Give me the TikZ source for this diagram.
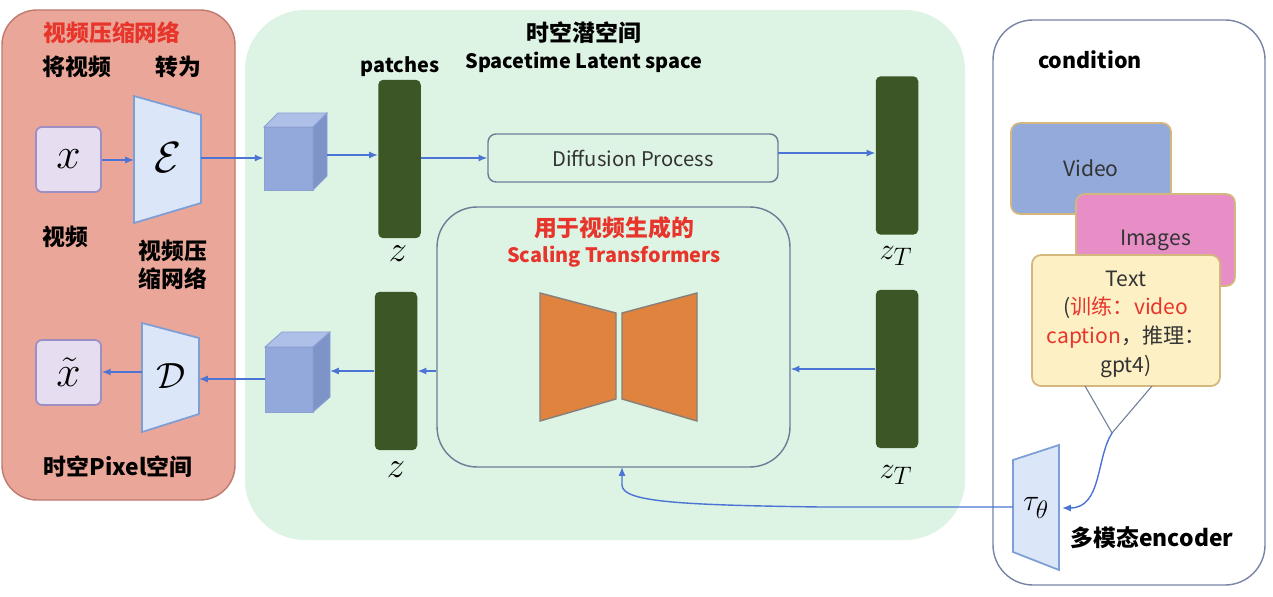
\documentclass[tikz,border=0pt]{standalone}
\usepackage[no-math]{fontspec}
\setmainfont{Noto Sans CJK SC}
\usetikzlibrary{arrows.meta}

\definecolor{redfill}{HTML}{EAA698}
\definecolor{redline}{HTML}{BE7A6E}
\definecolor{greenfill}{HTML}{DDF3E4}
\definecolor{condline}{HTML}{7784A5}
\definecolor{redtxt}{HTML}{E8352C}
\definecolor{arrblue}{HTML}{4C74D4}
\definecolor{bargreen}{HTML}{3C5725}
\definecolor{xfill}{HTML}{E6DEF0}
\definecolor{xline}{HTML}{9D8FC4}
\definecolor{trapfill}{HTML}{DBE7F8}
\definecolor{trapline}{HTML}{7E9ED6}
\definecolor{boxline}{HTML}{6C7D96}
\definecolor{orng}{HTML}{E0833E}
\definecolor{orngline}{HTML}{85807A}
\definecolor{cubefront}{HTML}{93A8DB}
\definecolor{cubetop}{HTML}{AEBFE8}
\definecolor{cubeside}{HTML}{7E93C8}
\definecolor{cubeline}{HTML}{8CA0D2}
\definecolor{vidfill}{HTML}{93AADB}
\definecolor{imgfill}{HTML}{E68EC5}
\definecolor{txtfill}{HTML}{FDF0C5}
\definecolor{cardline}{HTML}{D3B77C}
\definecolor{darktxt}{HTML}{333333}

\begin{document}
\begin{tikzpicture}[x=0.02cm,y=-0.02cm]
  \tikzset{lbl/.style={font=\fontsize{13}{16}\selectfont\bfseries},
    latlbl/.style={font=\fontsize{11.3}{14}\selectfont\bfseries},
    redlbl/.style={text=redtxt},
    txt/.style={font=\fontsize{12}{16.3}\selectfont, text=darktxt},
    bigmath/.style={font=\fontsize{22}{26}\selectfont},
    smallmath/.style={font=\fontsize{19}{22}\selectfont},
    arr/.style={draw=arrblue, line width=0.8pt, -{Latex[length=5pt,width=4pt]}},
    xbox/.style={draw=xline, fill=xfill, line width=1pt,
      rounded corners=0.12cm, minimum width=1.3cm, minimum height=1.3cm,
      font=\fontsize{25}{28}\selectfont},
    bar/.style={fill=bargreen, rounded corners=0.1cm, minimum width=0.85cm,
      minimum height=3.17cm},
    trap/.style={draw=trapline, fill=trapfill, line width=1pt},
    rbox/.style={draw=boxline, line width=0.8pt},
    card/.style={draw=cardline, line width=1pt, rounded corners=0.18cm},
    face/.style={draw=cubeline, line width=0.5pt}}
  \useasboundingbox (0,0) rectangle (1273,597);
  % three panels
  \draw[fill=redfill, draw=redline, rounded corners=0.7cm, line width=0.8pt]
    (2,10) rectangle (235,500);
  \fill[greenfill, rounded corners=1.2cm] (245,10) rectangle (965,540);
  \draw[draw=condline, rounded corners=0.8cm, line width=0.8pt]
    (993,20) rectangle (1265,585);

  % pixel space
  \node[lbl, redlbl] (ptitle) at (112,33) {视频压缩网络};
  \node[lbl] (pl1) at (77,67) {将视频};
  \node[lbl] (pl2) at (178,67) {转为};
  \node[lbl] (pl3) at (65,237) {视频};
  \node[lbl, align=center] (pl4) at (173,265) {视频压\\缩网络};
  \node[lbl] (pl5) at (118,467) {时空Pixel空间};
  \node[xbox] (x) at (68.5,159.5) {$x$};
  \node[xbox] (xt) at (68.5,372.5) {$\tilde{x}$};
  \draw[trap] (134,96) -- (201,115) -- (201,203) -- (134,223) -- cycle;
  \node[font=\fontsize{27}{30}\selectfont] (E) at (168,158) {$\mathcal{E}$};
  \coordinate (Ein) at (134,160);
  \coordinate (Eout) at (201,158);
  \draw[trap] (142,323) -- (199,338) -- (199,414) -- (142,432) -- cycle;
  \node[bigmath] (D) at (171,376) {$\mathcal{D}$};
  \coordinate (Din) at (199,379);
  \coordinate (Dout) at (142,372);

  % cubes
  \node[face, fill=cubefront, minimum width=0.98cm, minimum height=1.26cm]
    (cube1) at (288.5,158.5) {};
  \draw[face, fill=cubetop] (264,127) -- (278,113) -- (327,113) -- (313,127) -- cycle;
  \draw[face, fill=cubeside] (313,127) -- (327,113) -- (327,176) -- (313,190) -- cycle;
  \coordinate (c1side) at (327,155);
  \node[face, fill=cubefront, minimum width=0.96cm, minimum height=1.3cm]
    (cube2) at (289,379.5) {};
  \draw[face, fill=cubetop] (265,347) -- (282,332) -- (330,332) -- (313,347) -- cycle;
  \draw[face, fill=cubeside] (313,347) -- (330,332) -- (330,397) -- (313,412) -- cycle;
  \coordinate (c2side) at (330,371);

  % latent space
  \node[lbl] (ltitle) at (584,33) {时空潜空间};
  \node[latlbl] (ltitle2) at (584,62) {Spacetime Latent space};
  \node[latlbl] (patch) at (400,67) {patches};
  \node[bar] (z1) at (399.5,159) {};
  \node[bar] (z2) at (396,371) {};
  \node[bar] (zT1) at (897,155.5) {};
  \node[bar] (zT2) at (897,369) {};
  \node[bigmath] at (398,254) {$z$};
  \node[bigmath] at (396,470) {$z$};
  \node[smallmath] at (896,256) {$z_T$};
  \node[smallmath] at (896,475) {$z_T$};
  \node[rbox, rounded corners=0.16cm, minimum width=5.8cm, minimum height=0.96cm,
    txt, font=\fontsize{11.5}{14}\selectfont] (diff) at (633,158) {Diffusion Process};
  \coordinate (dout) at (778,153);
  \node[rbox, rounded corners=0.8cm, minimum width=7.06cm, minimum height=5.2cm]
    (T) at (613.5,337) {};
  \node[latlbl, redlbl, font=\fontsize{13}{16}\selectfont\bfseries] (tl1)
    at (614,228) {用于视频生成的};
  \node[latlbl, redlbl] (tl2) at (614,257) {Scaling Transformers};
  \draw[fill=orng, draw=orngline, line width=0.8pt]
    (540,293) -- (616,313) -- (616,399) -- (540,421) -- cycle;
  \draw[fill=orng, draw=orngline, line width=0.8pt]
    (622,313) -- (697,293) -- (697,421) -- (622,399) -- cycle;
  \coordinate (Tin) at (622,467);

  % condition
  \node[latlbl, font=\fontsize{12.2}{15}\selectfont\bfseries] (ctitle)
    at (1090,60) {condition};
  \node[card, fill=vidfill, minimum width=3.2cm, minimum height=1.82cm, txt]
    (vid) at (1091,168.5) {Video};
  \node[card, fill=imgfill, minimum width=3.18cm, minimum height=1.84cm, txt]
    (img) at (1155.5,240) {Images};
  \node[card, fill=txtfill, minimum width=3.76cm, minimum height=2.62cm]
    (text) at (1126,320.5) {};
  \node[txt, align=center] (textlbl) at (1126,324) {Text\\
    (\textcolor{redtxt}{训练：video}\\
    \textcolor{redtxt}{caption}，推理：\\gpt4)};
  \coordinate (apex) at (1112,433);
  \draw[draw=boxline, line width=0.6pt] (1085,386) -- (apex) -- (1152,386);
  \draw[trap] (1013,460) -- (1059,445) -- (1059,570) -- (1013,552) -- cycle;
  \node[smallmath] (tau) at (1036,508) {$\tau_\theta$};
  \coordinate (tauR) at (1062,508);
  \coordinate (tauL) at (1013,507);
  \node[lbl] (enc) at (1152,538) {多模态encoder};

  % arrows
  \draw[arr] (x.east |- Ein) -- (Ein);
  \draw[arr] (Eout) -- (cube1.west |- Eout);
  \draw[arr] (c1side) -- (z1.west |- c1side);
  \draw[arr] (z1.east |- diff) -- (diff.west);
  \draw[arr] (dout) -- (zT1.west |- dout);
  \draw[arr] (zT2.west) -- (zT2.west -| T.east);
  \draw[arr] (T.west |- z2.east) -- (z2.east);
  \draw[arr] (z2.west) -- (c2side);
  \draw[arr] (cube2.west |- Din) -- (Din);
  \draw[arr] (Dout) -- (xt.east |- Dout);
  \draw[arr] (apex) .. controls (1096,458) and (1102,508) .. (tauR);
  \draw[arr] (tauL) -- (820,507) .. controls (680,505) and (622,502)
    .. (622,485) -- (Tin);
\end{tikzpicture}
\end{document}
